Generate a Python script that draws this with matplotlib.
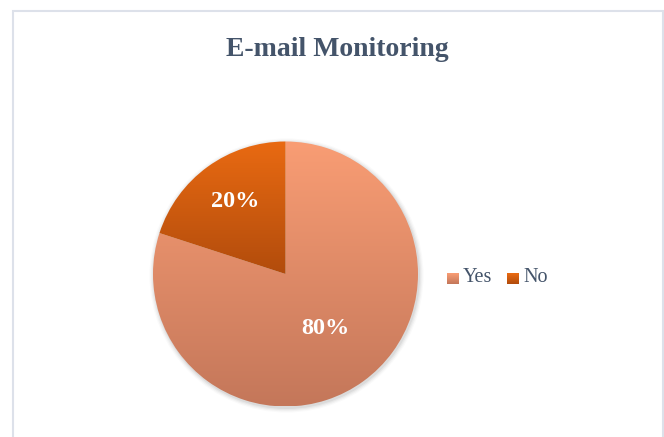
import numpy as np
import matplotlib.pyplot as plt
from matplotlib.colors import LinearSegmentedColormap
from matplotlib.patches import Rectangle, Circle

title = "E-mail Monitoring"
labels = ["Yes", "No"]
values = [80, 20]
top_colors = ["#F99D74", "#E96A12"]
bottom_colors = ["#C4775A", "#B24C0C"]
label_dist = [0.51, 0.68]

W, H = 664, 437
fig = plt.figure(figsize=(W / 100, H / 100), dpi=100)
ax = fig.add_axes([0, 0, 1, 1])

serif = ["Liberation Serif", "DejaVu Serif"]
text_col = "#44546A"

# chart frame
ax.add_patch(Rectangle((12.5, -5), 650, H - 10.5 + 5, fill=False,
                       edgecolor="#DDE1EA", linewidth=1.5))

ax.text(337, H - 49, title, ha="center", va="center", fontsize=20,
        fontweight="bold", color=text_col, family=serif)

cx, cy, r = 285.5, H - 274, 132.5

# soft shadow
for i, a in enumerate([0.05, 0.04, 0.03, 0.02]):
    ax.add_patch(Circle((cx + 1, cy - 1.5), r + 1 + i * 1.2, color="#000000",
                        alpha=a, lw=0, zorder=1))

wedges, _ = ax.pie(values, startangle=90, counterclock=False,
                   center=(cx, cy), radius=r, frame=True,
                   wedgeprops=dict(linewidth=0))

for w, ctop, cbot in zip(wedges, top_colors, bottom_colors):
    w.set_facecolor("none")
    w.set_zorder(2)
    ext = w.get_path().get_extents(w.get_patch_transform())
    cmap = LinearSegmentedColormap.from_list("g", [cbot, ctop])
    grad = np.linspace(0, 1, 256).reshape(-1, 1)
    im = ax.imshow(grad, cmap=cmap, origin="lower", aspect="auto",
                   extent=[ext.x0, ext.x1, ext.y0, ext.y1], zorder=3,
                   interpolation="bilinear")
    im.set_clip_path(w)

total = sum(values)
start = 90.0
for v, d in zip(values, label_dist):
    mid = start - v / total * 180
    ang = np.deg2rad(mid)
    ax.text(cx + d * r * np.cos(ang) + (3 if v < 50 else 0),
            cy + d * r * np.sin(ang), f"{v}%",
            ha="center", va="center", fontsize=17.5, fontweight="bold",
            color="white", family=serif, zorder=5)
    start -= v / total * 360

# legend
lx = 447
for lab, ctop, cbot in zip(labels, top_colors, bottom_colors):
    sq = np.linspace(0, 1, 32).reshape(-1, 1)
    ax.imshow(sq, cmap=LinearSegmentedColormap.from_list("s", [cbot, ctop]),
              origin="lower", aspect="auto",
              extent=[lx, lx + 12, H - 284, H - 273], zorder=4)
    ax.text(lx + 16, H - 278, lab, ha="left", va="center", fontsize=14.5,
            color=text_col, family=serif)
    lx += 60

ax.set_xlim(0, W)
ax.set_ylim(0, H)
ax.set_aspect("auto")
ax.axis("off")
fig.savefig("out.png", dpi=100, facecolor="white")
